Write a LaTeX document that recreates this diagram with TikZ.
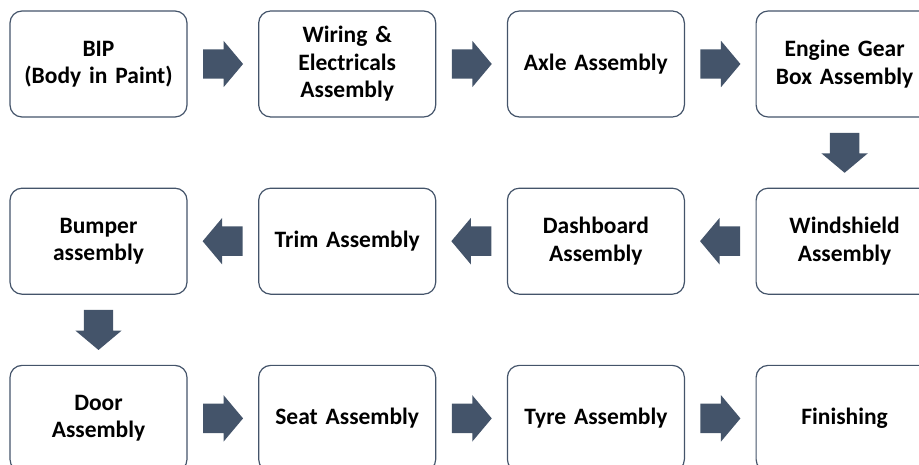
\documentclass[tikz,border=0pt]{standalone}
\usepackage{fontspec}
\setmainfont[WordSpace=0.7]{Carlito}
\usepackage{tikz}
\usetikzlibrary{positioning,calc,shapes.arrows}

\definecolor{slate}{HTML}{44546A}

\tikzset{
	stage/.style={draw=slate, line width=1.2pt, rounded corners=12pt, fill=white,
		minimum width=177pt, minimum height=106pt, text width=170pt, align=center,
		font=\fontsize{23.5}{27.5}\selectfont\bfseries},
	flowarrow/.style={single arrow, fill=slate, draw=none, minimum height=40pt,
		inner xsep=0pt, inner ysep=14.5pt, single arrow head extend=8.5pt,
		single arrow tip angle=100, text width=0pt, text height=0pt, text depth=0pt,
		anchor=tail},
}

% block arrow halfway between two stages: name, from, to, angle
\newcommand{\flowstep}[4]{%
	\node[flowarrow, rotate=#4] (#1) at ($(#2)!0.5!(#3)!20pt!(#2)$) {};}

\begin{document}
\begin{tikzpicture}[x=1pt, y=1pt, node distance=70pt and 70.5pt]
	\useasboundingbox (0,0) rectangle (919,465);
	\clip (0,0) rectangle (919,465);
% first row, left to right
	\node[stage] (bip) at (98.5,401) {BIP\\(Body in Paint)};
	\node[stage, right=of bip] (wiring) {Wiring \&\\Electricals\\Assembly};
	\node[stage, right=of wiring] (axle) {Axle Assembly};
	\node[stage, right=of axle] (engine) {Engine Gear\\Box Assembly};
% second row, right to left
	\node[stage, below=of engine] (windshield) {Windshield\\Assembly};
	\node[stage, below=of axle] (dashboard) {Dashboard\\Assembly};
	\node[stage, below=of wiring] (trim) {Trim Assembly};
	\node[stage, below=of bip] (bumper) {Bumper\\assembly};
% third row, left to right
	\node[stage, below=of bumper] (door) {Door\\Assembly};
	\node[stage, below=of trim] (seat) {Seat Assembly};
	\node[stage, below=of dashboard] (tyre) {Tyre Assembly};
	\node[stage, below=of windshield] (finishing) {Finishing};
% block arrows between the stages
	\flowstep{a1}{bip.east}{wiring.west}{0}
	\flowstep{a2}{wiring.east}{axle.west}{0}
	\flowstep{a3}{axle.east}{engine.west}{0}
	\flowstep{a4}{engine.south}{windshield.north}{-90}
	\flowstep{a5}{windshield.west}{dashboard.east}{180}
	\flowstep{a6}{dashboard.west}{trim.east}{180}
	\flowstep{a7}{trim.west}{bumper.east}{180}
	\flowstep{a8}{bumper.south}{door.north}{-90}
	\flowstep{a9}{door.east}{seat.west}{0}
	\flowstep{a10}{seat.east}{tyre.west}{0}
	\flowstep{a11}{tyre.east}{finishing.west}{0}
\end{tikzpicture}
\end{document}
